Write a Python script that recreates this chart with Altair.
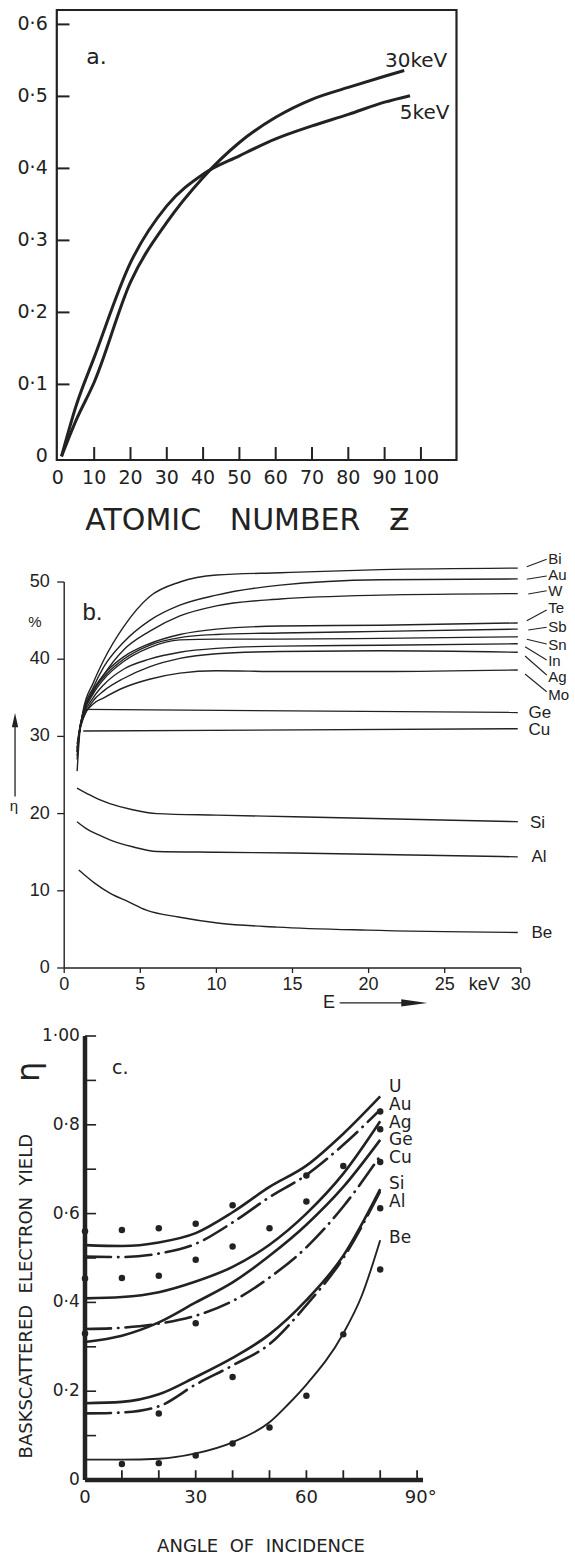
import altair as alt
import pandas as pd

INK = "#222222"
FA = "DejaVu Sans"
FB = "Liberation Sans"
NB = "\u00a0"

# ================= Panel a : eta vs atomic number =================
A_Z_30 = [1, 5, 10, 20, 30, 40, 50, 60, 70, 80, 90, 95.4]
A_ETA_30 = [0.0, 0.05, 0.103, 0.242, 0.325, 0.3875, 0.436, 0.471, 0.496, 0.5125, 0.528, 0.536]
A_Z_5 = [1, 5, 10, 20, 30, 40, 50, 60, 70, 80, 90, 97]
A_ETA_5 = [0.0, 0.07, 0.1375, 0.269, 0.348, 0.392, 0.4175, 0.441, 0.459, 0.475, 0.492, 0.501]
A_XTICKS = [10, 20, 30, 40, 50, 60, 70, 80, 90, 100]
A_XLABEL_VALS = [0, 10, 20, 30, 40, 50, 60, 70, 80, 90, 100]
A_XLABELS = ["0", "10", "20", "30", "40", "50", "60", "70", "80", "90", "100"]
A_YTICKS = [0.1, 0.2, 0.3, 0.4, 0.5, 0.6]
A_YLABEL_VALS = [0, 0.1, 0.2, 0.3, 0.4, 0.5, 0.6]
A_YLABELS = ["0", "0·1", "0·2", "0·3", "0·4", "0·5", "0·6"]
A_XDOM = [-0.3, 109.8]
A_YDOM = [-0.005, 0.62]

# ================= Panel b : eta (%) vs energy =================
B_E_HEAVY = [0.85, 1.0, 1.25, 1.9, 2.6, 3.9, 5.6, 7.6, 10, 14.2, 20.8, 29.8]
B_BI = [25.5, 30.0, 33.4, 36.9, 39.9, 44.2, 48.1, 50.0, 50.9, 51.2, 51.6, 51.8]
B_AU = [27.0, 30.5, 33.2, 36.3, 39.0, 42.2, 45.0, 47.0, 48.3, 49.6, 50.3, 50.4]
B_W = [27.5, 30.5, 33.0, 35.8, 38.0, 41.2, 43.6, 45.6, 46.9, 47.8, 48.3, 48.5]
B_TE = [28.0, 30.8, 33.0, 36.0, 38.0, 40.3, 42.0, 43.2, 43.9, 44.3, 44.4, 44.7]
B_SB = [28.0, 30.8, 33.0, 35.8, 37.7, 40.0, 41.8, 42.8, 43.2, 43.4, 43.6, 43.9]
B_SN = [28.0, 30.6, 32.8, 35.5, 37.4, 39.7, 41.5, 42.5, 42.6, 42.6, 42.7, 42.9]
B_IN = [28.5, 30.6, 32.6, 35.0, 36.7, 38.7, 40.0, 40.9, 41.4, 41.7, 41.8, 42.0]
B_AG = [28.5, 30.5, 32.3, 34.6, 35.9, 37.5, 39.0, 40.1, 40.7, 41.0, 41.1, 40.9]
B_MO = [29.0, 30.8, 32.4, 34.2, 35.0, 36.3, 37.4, 38.2, 38.5, 38.4, 38.4, 38.6]
B_GE_E = [1.25, 29.8]
B_GE = [33.5, 33.1]
B_CU_E = [1.25, 29.8]
B_CU = [30.7, 31.0]
B_SI_E = [0.84, 1.5, 2.2, 3.0, 4.5, 6.1, 10, 15.1, 29.8]
B_SI = [23.3, 22.6, 21.9, 21.3, 20.5, 20.0, 19.8, 19.6, 18.95]
B_AL_E = [0.84, 1.5, 2.2, 3.0, 4.5, 6.1, 10, 15, 29.8]
B_AL = [18.95, 18.0, 17.3, 16.6, 15.7, 15.1, 15.0, 14.9, 14.4]
B_BE_E = [0.96, 2.0, 3.0, 4.2, 5.4, 7.5, 10.2, 14, 19.9, 29.8]
B_BE = [12.7, 11.0, 9.7, 8.6, 7.5, 6.6, 5.8, 5.3, 4.9, 4.6]
B_TOP_LABELS = ["Bi", "Au", "W", "Te", "Sb", "Sn", "In", "Ag", "Mo"]
B_TOP_LABEL_ETA = [53.0, 50.9, 48.8, 46.6, 44.2, 41.8, 39.8, 37.7, 35.4]
B_LEAD_E0 = [30.39, 30.39, 30.49, 30.39, 30.49, 30.39, 30.28, 30.28, 30.28]
B_LEAD_ETA0 = [51.98, 50.35, 48.45, 44.99, 43.78, 42.58, 41.62, 40.41, 38.08]
B_LEAD_E1 = 31.7
B_LEAD_ETA1 = [52.94, 50.78, 48.86, 46.37, 44.13, 41.97, 39.90, 37.95, 35.79]
B_LOW_LABELS = ["Ge", "Cu", "Si", "Al", "Be"]
B_LOW_LABEL_E = [30.5, 30.5, 30.6, 30.7, 30.7]
B_LOW_LABEL_ETA = [33.0, 30.8, 18.8, 14.4, 4.5]
B_XTICKS = [0, 5, 10, 15, 20, 25, 30]
B_XLABELS = ["0", "5", "10", "15", "20", "25", "30"]
B_YTICKS = [0, 10, 20, 30, 40, 50]
B_YLABELS = ["0", "10", "20", "30", "40", "50"]
B_XDOM = [0, 30]
B_YDOM = [0, 50]

# ================= Panel c : eta vs angle of incidence =================
C_THETA = [0, 10, 20, 30, 40, 50, 60, 70, 80]
C_U = [0.529, 0.527, 0.535, 0.556, 0.603, 0.66, 0.708, 0.78, 0.864]
C_AU = [0.503, 0.502, 0.51, 0.532, 0.58, 0.637, 0.687, 0.755, 0.834]
C_AG = [0.409, 0.412, 0.423, 0.447, 0.48, 0.53, 0.60, 0.69, 0.808]
C_GE = [0.311, 0.325, 0.355, 0.40, 0.445, 0.505, 0.575, 0.66, 0.766]
C_CU = [0.34, 0.343, 0.352, 0.37, 0.403, 0.456, 0.524, 0.616, 0.73]
C_SI = [0.173, 0.176, 0.193, 0.232, 0.275, 0.328, 0.405, 0.505, 0.655]
C_AL = [0.150, 0.152, 0.166, 0.215, 0.258, 0.306, 0.394, 0.50, 0.65]
C_BE_THETA = [0, 10, 20, 30, 40, 50, 55, 60, 70, 75, 80]
C_BE = [0.046, 0.046, 0.048, 0.06, 0.085, 0.13, 0.17, 0.215, 0.33, 0.415, 0.54]
C_DOT_THETA = [0, 10, 20, 30, 40, 50, 60, 60, 70, 80, 80, 80, 80, 80,
               0, 10, 20, 30, 40, 0, 30, 40, 20, 10, 20, 30, 40, 50, 60, 70]
C_DOT_ETA = [0.56, 0.563, 0.567, 0.577, 0.619, 0.567, 0.627, 0.686, 0.707, 0.83, 0.79, 0.716, 0.612, 0.474,
             0.454, 0.455, 0.46, 0.496, 0.526, 0.33, 0.353, 0.232, 0.15, 0.036, 0.038, 0.055, 0.082, 0.118, 0.19, 0.328]
C_LABELS = ["U", "Au", "Ag", "Ge", "Cu", "Si", "Al", "Be"]
C_LABEL_ETA = [0.885, 0.845, 0.804, 0.766, 0.725, 0.667, 0.626, 0.544]
C_XTICKS = [10, 20, 30, 40, 50, 60, 70, 80, 90]
C_XLABEL_VALS = [0, 30, 60, 91]
C_XLABELS = ["0", "30", "60", "90°"]
C_YTICKS = [0.1, 0.2, 0.3, 0.4, 0.5, 0.6, 0.7, 0.8, 0.9, 1.0]
C_YLABEL_VALS = [0, 0.2, 0.4, 0.6, 0.8, 1.0]
C_YLABELS = ["0", "0·2", "0·4", "0·6", "0·8", "1·00"]
C_XDOM = [0, 90]
C_YDOM = [0, 1]

W = 575
HA, HB, HC = 545, 467, 544

ax = alt.Scale(domain=A_XDOM, range=[56.8, 456.5], nice=False, zero=False)
ay = alt.Scale(domain=A_YDOM, range=[460, 10], nice=False, zero=False)
bx = alt.Scale(domain=B_XDOM, range=[64.2, 520.8], nice=False, zero=False)
by = alt.Scale(domain=B_YDOM, range=[423, 37], nice=False, zero=False)
cx = alt.Scale(domain=C_XDOM, range=[85, 417.1], nice=False, zero=False)
cy = alt.Scale(domain=C_YDOM, range=[468, 24], nice=False, zero=False)


def enc(ch, sx, sy, **extra):
    e = dict(x=alt.X("x:Q", scale=sx, axis=None), y=alt.Y("y:Q", scale=sy, axis=None))
    e.update(extra)
    return ch.encode(**e)


def texts(xs, ys, labels, sx, sy, **mk):
    d = pd.DataFrame({"x": xs, "y": ys, "t": labels})
    return enc(alt.Chart(d).mark_text(color=INK, **mk), sx, sy, text="t:N")


def rules(x0, y0, x1, y1, sx, sy, **mk):
    d = pd.DataFrame({"x": x0, "y": y0, "x2": x1, "y2": y1})
    return enc(alt.Chart(d).mark_rule(color=INK, **mk), sx, sy, x2="x2:Q", y2="y2:Q")


def series(pairs):
    frames = []
    for name, xs, ys in pairs:
        frames.append(pd.DataFrame({"x": xs, "y": ys, "s": name}))
    return pd.concat(frames, ignore_index=True)


# ---------------- Panel a ----------------
a_lines = enc(alt.Chart(series([("30 keV", A_Z_30, A_ETA_30), ("5 keV", A_Z_5, A_ETA_5)]))
              .mark_line(color=INK, strokeWidth=3, interpolate="monotone"), ax, ay, detail="s:N")
a_frame = enc(alt.Chart(pd.DataFrame({"x": [A_XDOM[0]], "y": [A_YDOM[0]], "x2": [A_XDOM[1]], "y2": [A_YDOM[1]]}))
              .mark_rect(fillOpacity=0, stroke=INK, strokeWidth=2.2), ax, ay, x2="x2:Q", y2="y2:Q")
a_yt = rules([A_XDOM[0]] * len(A_YTICKS), A_YTICKS, [3.2] * len(A_YTICKS), A_YTICKS, ax, ay, strokeWidth=2)
a_xt = rules(A_XTICKS, [A_YDOM[0]] * len(A_XTICKS), A_XTICKS, [0.013] * len(A_XTICKS), ax, ay, strokeWidth=2)
a_yl = texts([-2.8] * len(A_YLABELS), A_YLABEL_VALS, A_YLABELS, ax, ay, align="right", font=FA, fontSize=19)
a_xl = texts(A_XLABEL_VALS, [-0.030] * len(A_XLABELS), A_XLABELS, ax, ay, align="center", font=FA, fontSize=19)
a_title = texts([52.2], [-0.0897], ["ATOMIC" + NB * 3 + "NUMBER" + NB * 3 + "Ƶ"], ax, ay,
                align="center", font=FA, fontSize=30)
a_tag = texts([7.8], [0.555], ["a."], ax, ay, align="left", font=FA, fontSize=22)
a_lab = texts([90.1, 94.2], [0.549, 0.477], ["30keV", "5keV"], ax, ay, align="left", font=FA, fontSize=20)
panel_a = alt.layer(a_frame, a_yt, a_xt, a_lines, a_yl, a_xl, a_title, a_tag, a_lab).properties(width=W, height=HA)

# ---------------- Panel b ----------------
heavy = [("Bi", B_BI), ("Au", B_AU), ("W", B_W), ("Te", B_TE), ("Sb", B_SB), ("Sn", B_SN),
         ("In", B_IN), ("Ag", B_AG), ("Mo", B_MO)]
b_pairs = [(n, B_E_HEAVY, v) for n, v in heavy] + [
    ("Ge", B_GE_E, B_GE), ("Cu", B_CU_E, B_CU), ("Si", B_SI_E, B_SI), ("Al", B_AL_E, B_AL), ("Be", B_BE_E, B_BE)]
b_lines = enc(alt.Chart(series(b_pairs)).mark_line(color=INK, strokeWidth=1.4, interpolate="monotone"),
              bx, by, detail="s:N")
b_axes = rules([0, 0], [0, 0], [0, 30], [50, 0], bx, by, strokeWidth=1.4)
b_yt = rules([-0.46] * len(B_YTICKS), B_YTICKS, [0] * len(B_YTICKS), B_YTICKS, bx, by, strokeWidth=1.3)
b_xt = rules(B_XTICKS, [0] * len(B_XTICKS), B_XTICKS, [-0.65] * len(B_XTICKS), bx, by, strokeWidth=1.3)
b_yl = texts([-0.95] * len(B_YTICKS), B_YTICKS, B_YLABELS, bx, by, align="right", font=FB, fontSize=18)
b_xl = texts(B_XTICKS, [-2.2] * len(B_XTICKS), B_XLABELS, bx, by, align="center", font=FB, fontSize=18)
b_kev = texts([27.6], [-2.2], ["keV"], bx, by, align="center", font=FB, fontSize=18)
b_tag = texts([1.2], [46.0], ["b."], bx, by, align="left", font=FB, fontSize=24)
b_pct = texts([-1.92], [44.8], ["%"], bx, by, align="center", font=FB, fontSize=15)
b_eta = texts([-3.3], [21.0], ["η"], bx, by, align="center", font=FB, fontSize=15)
b_elab = texts([17.4], [-4.53], ["E"], bx, by, align="center", font=FB, fontSize=18)
b_lead = rules(B_LEAD_E0, B_LEAD_ETA0, [B_LEAD_E1] * 9, B_LEAD_ETA1, bx, by, strokeWidth=1.1)
b_top = texts([31.8] * 9, B_TOP_LABEL_ETA, B_TOP_LABELS, bx, by, align="left", font=FB, fontSize=15)
b_low = texts(B_LOW_LABEL_E, B_LOW_LABEL_ETA, B_LOW_LABELS, bx, by, align="left", font=FB, fontSize=17)
b_arrow_v = rules([-3.23], [22.2], [-3.23], [31.5], bx, by, strokeWidth=1.3)
b_arrow_h = rules([18.1], [-4.53], [22.3], [-4.53], bx, by, strokeWidth=1.3)
b_head_v = enc(alt.Chart(pd.DataFrame({"x": [-3.23], "y": [32.1]}))
               .mark_point(shape="M0,-1L0.45,1L-0.45,1Z", size=200, filled=True, color=INK, opacity=1), bx, by)
b_head_h = enc(alt.Chart(pd.DataFrame({"x": [23.0], "y": [-4.53]}))
               .mark_point(shape="M1,0L-1,-0.28L-1,0.28Z", size=680, filled=True, color=INK, opacity=1), bx, by)
panel_b = alt.layer(b_axes, b_yt, b_xt, b_lines, b_lead, b_yl, b_xl, b_kev, b_tag, b_pct, b_eta, b_elab,
                    b_top, b_low, b_arrow_v, b_arrow_h, b_head_v, b_head_h).properties(width=W, height=HB)

# ---------------- Panel c ----------------
solid = series([("U", C_THETA, C_U), ("Ag", C_THETA, C_AG), ("Ge", C_THETA, C_GE), ("Si", C_THETA, C_SI)])
dashed = series([("Au", C_THETA, C_AU), ("Cu", C_THETA, C_CU), ("Al", C_THETA, C_AL)])
thin = series([("Be", C_BE_THETA, C_BE)])
c_solid = enc(alt.Chart(solid).mark_line(color=INK, strokeWidth=2.6, interpolate="monotone"), cx, cy, detail="s:N")
c_dash = enc(alt.Chart(dashed).mark_line(color=INK, strokeWidth=2.6, interpolate="monotone",
                                         strokeDash=[26, 7, 0.5, 7], strokeCap="round"), cx, cy, detail="s:N")
c_thin = enc(alt.Chart(thin).mark_line(color=INK, strokeWidth=1.9, interpolate="monotone"), cx, cy, detail="s:N")
c_dots = enc(alt.Chart(pd.DataFrame({"x": C_DOT_THETA, "y": C_DOT_ETA}))
             .mark_circle(color=INK, size=42, opacity=1), cx, cy)
c_axes = rules([0, 0], [0, 0], [0, 91.6], [1.0, 0], cx, cy, strokeWidth=4.5)
c_yt = rules([0] * len(C_YTICKS), C_YTICKS, [3.0] * len(C_YTICKS), C_YTICKS, cx, cy, strokeWidth=1.6)
c_xt = rules(C_XTICKS, [0] * len(C_XTICKS), C_XTICKS, [0.022] * len(C_XTICKS), cx, cy, strokeWidth=1.8)
c_yl = texts([-1.4] * len(C_YLABELS), C_YLABEL_VALS, C_YLABELS, cx, cy, align="right", font=FA, fontSize=17)
c_xl = texts(C_XLABEL_VALS, [-0.0405] * len(C_XLABELS), C_XLABELS, cx, cy, align="center", font=FA, fontSize=18)
c_lab = texts([82.4] * len(C_LABELS), C_LABEL_ETA, C_LABELS, cx, cy, align="left", font=FA, fontSize=17)
c_tag = texts([7.3], [0.928], ["c."], cx, cy, align="left", font=FA, fontSize=19)
c_xtitle = texts([47.7], [-0.151], ["ANGLE" + NB * 2 + "OF" + NB * 2 + "INCIDENCE"], cx, cy,
                 align="center", font=FA, fontSize=18)
c_ytitle = texts([-15.7], [0.414], ["BASKSCATTERED" + NB * 2 + "ELECTRON" + NB * 2 + "YIELD"], cx, cy,
                 align="center", font=FA, fontSize=18, angle=270)
c_eta = texts([-15.2], [0.919], ["η"], cx, cy, align="center", font=FA, fontSize=32, angle=270)
panel_c = alt.layer(c_axes, c_yt, c_xt, c_solid, c_dash, c_thin, c_dots, c_yl, c_xl, c_lab, c_tag,
                    c_xtitle, c_ytitle, c_eta).properties(width=W, height=HC)

chart = alt.vconcat(panel_a, panel_b, panel_c, spacing=0, bounds="flush", padding=0).configure_view(
    stroke=None).properties(background="white")

chart.save("out.html", embed_options={"renderer": "svg", "actions": False})
